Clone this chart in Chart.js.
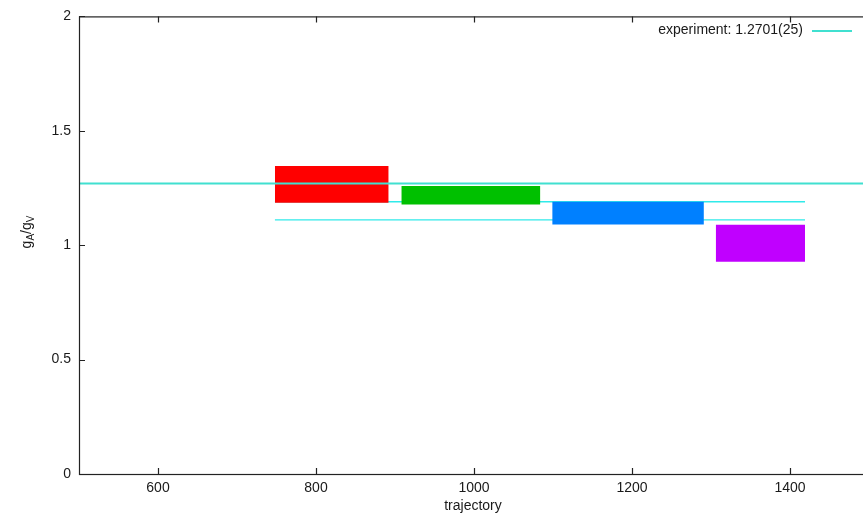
<!DOCTYPE html>
<html>
<head>
<meta charset="utf-8">
<script src="https://cdn.jsdelivr.net/npm/chart.js@4/dist/chart.umd.min.js"></script>
<style>
  html, body { margin: 0; padding: 0; background: #fff; overflow: hidden; }
  canvas { display: block; }
</style>
</head>
<body>
<canvas id="miCanva" width="880" height="523"></canvas>
<script>
// values
const xTicks = [600, 800, 1000, 1200, 1400];
const yTicks = [0, 0.5, 1, 1.5, 2];

const boxStart = [748, 908, 1099, 1306];
const boxEnd   = [892, 1084, 1291, 1419];
const boxLow   = [1.186, 1.178, 1.091, 0.928];
const boxHigh  = [1.346, 1.259, 1.190, 1.089];
const boxColors = ['#ff0000', '#00c000', '#0080ff', '#c000ff'];

const expValue = 1.2701;
const expLabel = 'experiment: 1.2701(25)';
const fitStart = 748;
const fitEnd = 1419;
const fitLow = 1.111;
const fitHigh = 1.19;

const textColor = '#1a1a1a';
const fontFam = '"Liberation Sans", Arial, sans-serif';

const datasets = [];
datasets.push({
  label: expLabel,
  data: [{ x: 500, y: expValue }, { x: 1500, y: expValue }],
  borderColor: '#40e0d0',
  borderWidth: 2,
  pointRadius: 0,
  fill: false
});
boxStart.forEach((x0, i) => {
  const x1 = boxEnd[i];
  datasets.push({
    label: 'box' + i,
    data: [{ x: x0, y: boxHigh[i] }, { x: x1, y: boxHigh[i] }],
    borderWidth: 0,
    borderColor: boxColors[i],
    backgroundColor: boxColors[i],
    pointRadius: 0,
    fill: '+1'
  });
  datasets.push({
    label: 'boxlow' + i,
    data: [{ x: x0, y: boxLow[i] }, { x: x1, y: boxLow[i] }],
    borderWidth: 0,
    pointRadius: 0,
    fill: false
  });
});
[fitHigh, fitLow].forEach((v, i) => {
  datasets.push({
    label: 'fit' + i,
    data: [{ x: fitStart, y: v }, { x: fitEnd, y: v }],
    borderColor: '#30eaea',
    borderWidth: 1.3,
    pointRadius: 0,
    fill: false
  });
});

const framePlugin = {
  id: 'frame',
  afterDraw(chart) {
    const { ctx, chartArea: a, scales } = chart;
    ctx.save();
    ctx.strokeStyle = '#222';
    ctx.lineWidth = 1.2;
    ctx.strokeRect(a.left + 0.5, a.top + 0.5, a.right - a.left, a.bottom - a.top);
    ctx.beginPath();
    xTicks.forEach(v => {
      const px = Math.round(scales.x.getPixelForValue(v)) + 0.5;
      ctx.moveTo(px, a.bottom); ctx.lineTo(px, a.bottom - 6);
      ctx.moveTo(px, a.top); ctx.lineTo(px, a.top + 6);
    });
    yTicks.forEach(v => {
      const py = Math.round(scales.y.getPixelForValue(v)) + 0.5;
      ctx.moveTo(a.left, py); ctx.lineTo(a.left + 6, py);
      ctx.moveTo(a.right, py); ctx.lineTo(a.right - 6, py);
    });
    ctx.stroke();

    // legend, gnuplot style: text then sample
    ctx.font = '14px ' + fontFam;
    ctx.fillStyle = textColor;
    ctx.textAlign = 'right';
    ctx.textBaseline = 'middle';
    ctx.fillText(expLabel, 803, 30);
    ctx.strokeStyle = '#40e0d0';
    ctx.lineWidth = 2;
    ctx.beginPath();
    ctx.moveTo(812, 31); ctx.lineTo(852, 31);
    ctx.stroke();

    // axis titles
    ctx.textAlign = 'center';
    ctx.fillText('trajectory', (a.left + 863) / 2 + 2, 506);

    ctx.translate(27, 232);
    ctx.rotate(-Math.PI / 2);
    ctx.textAlign = 'left';
    ctx.textBaseline = 'alphabetic';
    const parts = [['g', 14, 0], ['A', 10, 3], ['/g', 14, 0], ['V', 10, 3]];
    let w = 0;
    parts.forEach(([t, s]) => { ctx.font = s + 'px ' + fontFam; w += ctx.measureText(t).width; });
    let x = -w / 2;
    parts.forEach(([t, s, dy]) => {
      ctx.font = s + 'px ' + fontFam;
      ctx.fillText(t, x, 4 + dy);
      x += ctx.measureText(t).width;
    });
    ctx.restore();
  }
};

new Chart(document.getElementById('miCanva'), {
  type: 'line',
  data: { datasets },
  options: {
    responsive: false,
    animation: false,
    devicePixelRatio: 1,
    layout: { padding: { left: 0, right: 11, top: 15, bottom: 0 } },
    plugins: { legend: { display: false }, tooltip: { enabled: false } },
    scales: {
      x: {
        type: 'linear',
        min: 500,
        max: 1500,
        grid: { display: false, drawTicks: false },
        border: { display: false },
        afterBuildTicks: s => { s.ticks = xTicks.map(v => ({ value: v })); },
        afterFit: s => { s.height = 49; },
        ticks: {
          padding: 6,
          color: textColor,
          font: { family: fontFam, size: 14 },
          maxRotation: 0,
          callback: v => String(v)
        }
      },
      y: {
        type: 'linear',
        min: 0,
        max: 2,
        grid: { display: false, drawTicks: false },
        border: { display: false },
        afterBuildTicks: s => { s.ticks = yTicks.map(v => ({ value: v })); },
        afterFit: s => { s.width = 79; },
        ticks: {
          padding: 8,
          color: textColor,
          font: { family: fontFam, size: 14 },
          callback: v => String(v)
        }
      }
    }
  },
  plugins: [framePlugin]
});
</script>
</body>
</html>
